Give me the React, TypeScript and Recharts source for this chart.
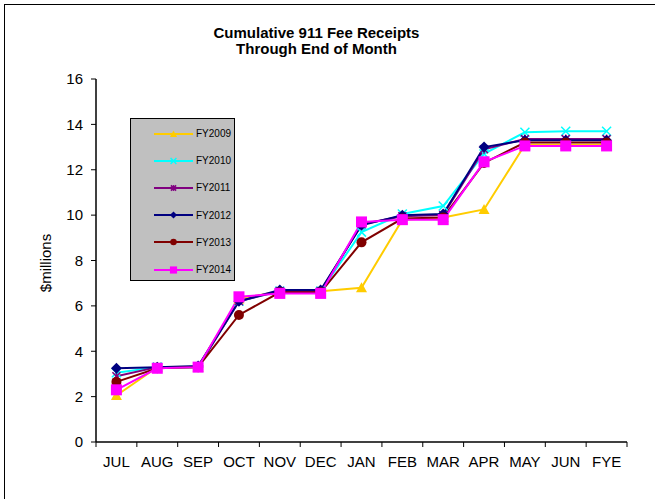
import React from "react";
import { LineChart, Line, XAxis, YAxis, Legend } from "recharts";

const MONTHS = ["JUL", "AUG", "SEP", "OCT", "NOV", "DEC", "JAN", "FEB", "MAR", "APR", "MAY", "JUN", "FYE"];

const FY2009 = [2.05, 3.3, 3.3, 6.3, 6.65, 6.65, 6.8, 9.8, 9.9, 10.25, 13.1, 13.1, 13.1];
const FY2010 = [3.05, 3.3, 3.3, 6.2, 6.65, 6.65, 9.25, 10.05, 10.4, 12.7, 13.65, 13.7, 13.7];
const FY2011 = [2.9, 3.3, 3.3, 6.2, 6.65, 6.65, 9.6, 9.95, 10.0, 12.9, 13.35, 13.35, 13.35];
const FY2012 = [3.25, 3.3, 3.35, 6.2, 6.7, 6.7, 9.55, 10.0, 10.05, 13.0, 13.3, 13.3, 13.3];
const FY2013 = [2.65, 3.25, 3.3, 5.6, 6.6, 6.6, 8.8, 9.85, 9.9, 12.3, 13.2, 13.2, 13.2];
const FY2014 = [2.3, 3.25, 3.3, 6.4, 6.55, 6.55, 9.7, 9.8, 9.8, 12.35, 13.05, 13.05, 13.05];

const Y_TICKS = [0, 2, 4, 6, 8, 10, 12, 14, 16];

const SERIES = [
  { key: "FY2009", values: FY2009, color: "#FFCC00", shape: "triangle" },
  { key: "FY2010", values: FY2010, color: "#00FFFF", shape: "x" },
  { key: "FY2011", values: FY2011, color: "#800080", shape: "star" },
  { key: "FY2012", values: FY2012, color: "#000080", shape: "diamond" },
  { key: "FY2013", values: FY2013, color: "#800000", shape: "circle" },
  { key: "FY2014", values: FY2014, color: "#FF00FF", shape: "square" },
];

const data = MONTHS.map((month, i) => {
  const row: Record<string, any> = { month };
  SERIES.forEach((s) => (row[s.key] = s.values[i]));
  return row;
});

const FONT = '"Liberation Sans", Arial, sans-serif';

function Marker({ shape, cx, cy, color, s = 1 }: { shape: string; cx: number; cy: number; color: string; s?: number }) {
  switch (shape) {
    case "triangle":
      return <polygon points={`${cx},${cy - 5.5 * s} ${cx + 5.5 * s},${cy + 4.5 * s} ${cx - 5.5 * s},${cy + 4.5 * s}`} fill={color} />;
    case "x":
      return (
        <g stroke={color} strokeWidth={1.5}>
          <line x1={cx - 4.5 * s} y1={cy - 4.5 * s} x2={cx + 4.5 * s} y2={cy + 4.5 * s} />
          <line x1={cx - 4.5 * s} y1={cy + 4.5 * s} x2={cx + 4.5 * s} y2={cy - 4.5 * s} />
        </g>
      );
    case "star":
      return (
        <g stroke={color} strokeWidth={1.5}>
          <line x1={cx - 4 * s} y1={cy - 4 * s} x2={cx + 4 * s} y2={cy + 4 * s} />
          <line x1={cx - 4 * s} y1={cy + 4 * s} x2={cx + 4 * s} y2={cy - 4 * s} />
          <line x1={cx} y1={cy - 4.5 * s} x2={cx} y2={cy + 4.5 * s} />
        </g>
      );
    case "diamond":
      return <polygon points={`${cx},${cy - 5.5 * s} ${cx + 5.5 * s},${cy} ${cx},${cy + 5.5 * s} ${cx - 5.5 * s},${cy}`} fill={color} />;
    case "circle":
      return <circle cx={cx} cy={cy} r={5 * s} fill={color} />;
    default:
      return <rect x={cx - 5.5 * s} y={cy - 5.5 * s} width={11 * s} height={11 * s} fill={color} />;
  }
}

function MonthTick(props: any) {
  const { x, y, payload, index, width, visibleTicksCount } = props;
  const bw = width && visibleTicksCount ? width / visibleTicksCount : 531 / 13;
  const axisY = y - 14;
  return (
    <g>
      <line x1={x - bw / 2} y1={axisY} x2={x - bw / 2} y2={axisY + 5} stroke="#000" />
      {index === MONTHS.length - 1 && <line x1={x + bw / 2} y1={axisY} x2={x + bw / 2} y2={axisY + 5} stroke="#000" />}
      <text x={x} y={y} dy="0.71em" textAnchor="middle" fontSize={15} fontFamily={FONT} fill="#000">
        {payload.value}
      </text>
    </g>
  );
}

function LegendBox() {
  return (
    <div style={{ width: 105, height: 163, background: "#c0c0c0", border: "1px solid #000", paddingTop: 1, boxSizing: "border-box" }}>
      {SERIES.map((s) => (
        <div key={s.key} style={{ height: 27.2, display: "flex", alignItems: "center" }}>
          <svg width={64} height={14} style={{ flex: "none" }}>
            <line x1={23} y1={7} x2={62} y2={7} stroke={s.color} strokeWidth={2} />
            <Marker shape={s.shape} cx={42.5} cy={7} color={s.color} s={0.65} />
          </svg>
          <span style={{ fontSize: 10, fontFamily: FONT, color: "#000", marginLeft: 1 }}>{s.key}</span>
        </div>
      ))}
    </div>
  );
}

export default function App() {
  return (
    <div style={{ position: "absolute", left: 0, top: 0, width: 655, height: 499, overflow: "hidden", background: "#fff" }}>
      <div style={{ position: "absolute", left: 4, top: 4, width: 700, height: 600, borderLeft: "1px solid #000", borderTop: "1px solid #000" }} />
      <div style={{ position: "absolute", left: 0, top: 25, width: 633, textAlign: "center", fontFamily: FONT, fontWeight: "bold", fontSize: 15, lineHeight: "16px", color: "#000" }}>
        Cumulative 911 Fee Receipts
        <br />
        Through End of Month
      </div>
      <div style={{ position: "absolute", left: 45, top: 263, transform: "translate(-50%, -50%) rotate(-90deg)", whiteSpace: "nowrap", fontFamily: FONT, fontSize: 15, color: "#000" }}>
        $millions
      </div>
      <div style={{ position: "absolute", left: 0, top: 0 }}>
        <LineChart width={655} height={499} data={data} margin={{ top: 79, right: 28, left: 56, bottom: 27 }}>
          <XAxis
            dataKey="month"
            scale="band"
            height={30}
            tickSize={5}
            tickMargin={9}
            tickLine={false}
            axisLine={{ stroke: "#000", strokeWidth: 1.5 }}
            tick={<MonthTick />}
            interval={0}
          />
          <XAxis xAxisId="top" dataKey="month" scale="band" orientation="top" height={0} tick={false} tickLine={false} axisLine={{ stroke: "#808080", strokeWidth: 2 }} />
          <YAxis
            domain={[0, 16]}
            ticks={Y_TICKS}
            width={40}
            tickSize={5}
            tickMargin={8}
            axisLine={{ stroke: "#000", strokeWidth: 1.5 }}
            tickLine={{ stroke: "#000" }}
            tick={{ fontSize: 15, fontFamily: FONT, fill: "#000" }}
            interval={0}
          />
          <YAxis yAxisId="right" orientation="right" domain={[0, 16]} width={0} tick={false} tickLine={false} axisLine={{ stroke: "#808080", strokeWidth: 2 }} />
          <Legend
            layout="vertical"
            align="center"
            verticalAlign="middle"
            content={<LegendBox />}
            wrapperStyle={{ position: "absolute", left: 130, top: 118, width: 105, height: 163 }}
          />
          {SERIES.map((s) => (
            <Line
              key={s.key}
              dataKey={s.key}
              stroke={s.color}
              strokeWidth={2}
              isAnimationActive={false}
              dot={(p: any) => <Marker key={`${s.key}-${p.index}`} shape={s.shape} cx={p.cx} cy={p.cy} color={s.color} />}
              activeDot={false}
            />
          ))}
        </LineChart>
      </div>
    </div>
  );
}
